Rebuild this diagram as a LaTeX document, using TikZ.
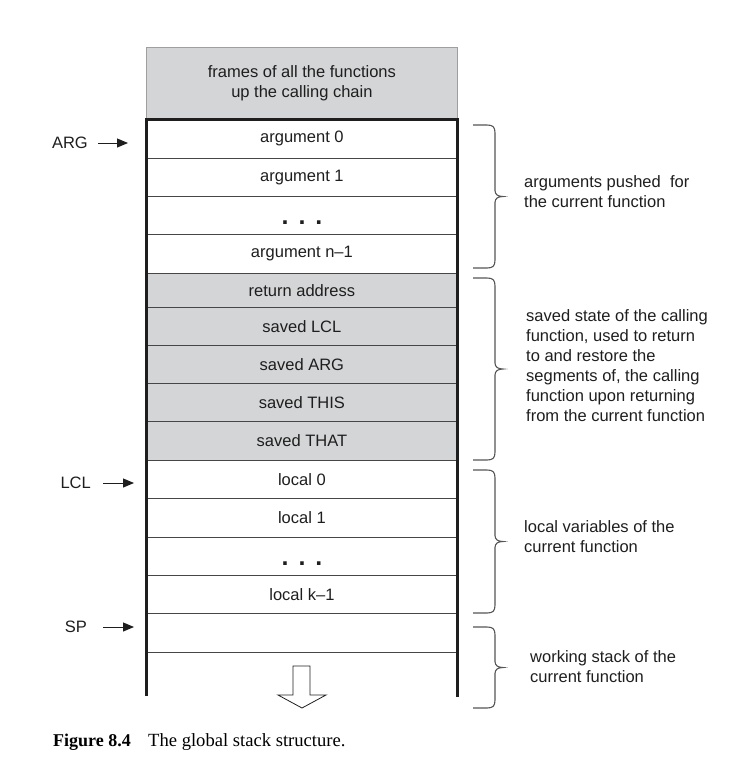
\documentclass[tikz,border=0pt]{standalone}
\usepackage{fontspec}
\setmainfont{Liberation Sans}
\newfontfamily\capfont{Liberation Serif}
\usetikzlibrary{arrows.meta}
\definecolor{stackgray}{RGB}{212,213,215}
\definecolor{ink}{RGB}{30,30,30}
\definecolor{rowline}{RGB}{70,70,70}
\definecolor{bracecol}{RGB}{85,85,85}
\newcommand{\stackbrace}[2]{%
  \pgfmathsetmacro{\brT}{#1}%
  \pgfmathsetmacro{\brB}{#2}%
  \pgfmathsetmacro{\brM}{(#1+#2)/2}%
  \draw[bracestyle] (473,\brT) -- (487,\brT)
    .. controls (493,\brT) and (495,{\brT+2}) .. (495,{\brT+8})
    -- (495,{\brM-6})
    .. controls (495,{\brM-2}) and (498,\brM) .. (503,\brM)
    .. controls (498,\brM) and (495,{\brM+2}) .. (495,{\brM+6})
    -- (495,{\brB-8})
    .. controls (495,{\brB-2}) and (493,\brB) .. (487,\brB)
    -- (473,\brB);%
}
\begin{document}
\begin{tikzpicture}[x=1pt,y=-1pt,
  txt/.style={font=\fontsize{16.5}{20}\selectfont, text=ink},
  row/.style={txt, rectangle, draw=rowline, line width=0.8pt, minimum width=311pt, inner sep=0pt, anchor=north west},
  grayrow/.style={row, fill=stackgray},
  ptrlabel/.style={txt, inner sep=0pt, anchor=east},
  ptr/.style={-{Triangle[length=11pt,width=9pt]}, line width=1pt, draw=ink},
  wall/.style={line width=3pt, draw=ink},
  bracestyle/.style={line width=1.1pt, draw=bracecol},
  bracetext/.style={txt, align=left, anchor=west, inner sep=0pt},
  dotsstyle/.style={font=\fontsize{25}{25}\selectfont\bfseries, text=ink, inner sep=0pt, anchor=base},
  capstyle/.style={anchor=base west, inner sep=0pt, text=black},
]
\useasboundingbox (0,0) rectangle (741,777);

% frames above
\node[grayrow, draw=gray!75, align=center, minimum height=72pt] (frames) at (146,47) {frames of all the functions\\up the calling chain};

% argument rows
\node[row, minimum height=39pt] (arg0) at (146,119) {argument 0};
\node[row, minimum height=38pt] (arg1) at (146,158) {argument 1};
\node[row, minimum height=38pt] (argdots) at (146,196) {};
\node[row, minimum height=39pt] (argn) at (146,234) {argument n–1};

% saved state rows
\node[grayrow, minimum height=34pt] (ret) at (146,273) {return address};
\node[grayrow, minimum height=38pt] (slcl) at (146,307) {saved LCL};
\node[grayrow, minimum height=38pt] (sarg) at (146,345) {saved ARG};
\node[grayrow, minimum height=38pt] (sthis) at (146,383) {saved THIS};
\node[grayrow, minimum height=39pt] (sthat) at (146,421) {saved THAT};

% local rows
\node[row, minimum height=38pt] (loc0) at (146,460) {local 0};
\node[row, minimum height=39pt] (loc1) at (146,498) {local 1};
\node[row, minimum height=38pt] (locdots) at (146,537) {};
\node[row, minimum height=38pt] (lock) at (146,575) {local k–1};
\node[row, minimum height=39pt] (spslot) at (146,613) {};

% ellipses
\node[dotsstyle] (dotsA) at (302,224) {.\hspace{10pt}.\hspace{10pt}.};
\node[dotsstyle] (dotsB) at (302,565) {.\hspace{10pt}.\hspace{10pt}.};

% thick walls
\draw[wall] (146,696) -- (146,119) -- (457,119) -- (457,697);

% growth arrow
\draw[line width=0.8pt, draw=ink] (293,666) -- (310,666) -- (310,695) -- (326,695) -- (302,708) -- (278,695) -- (293,695) -- cycle;

% pointers
\node[ptrlabel] (ARG) at (88,143) {ARG};
\node[ptrlabel] (LCL) at (91,483) {LCL};
\node[ptrlabel] (SP) at (87,627) {SP};
\draw[ptr, shorten <=10pt, shorten >=18pt] (ARG.east) -- (ARG.east -| arg0.west);
\draw[ptr, shorten <=12pt, shorten >=12pt] (LCL.east) -- (LCL.east -| loc0.west);
\draw[ptr, shorten <=16pt, shorten >=12pt] (SP.east) -- (SP.east -| spslot.west);

% braces
\stackbrace{125}{268}
\stackbrace{278}{460}
\stackbrace{470}{613}
\stackbrace{627}{708}

% notes
\node[bracetext] (argnote) at (524,191.5) {arguments pushed\ \ for\\the current function};
\node[bracetext] (savednote) at (526,365.5) {saved state of the calling\\function, used to return\\to and restore the\\segments of, the calling\\function upon returning\\from the current function};
\node[bracetext] (localnote) at (524,536.5) {local variables of the\\current function};
\node[bracetext] (worknote) at (530,666.5) {working stack of the\\current function};

% caption
\node[capstyle, font=\capfont\fontsize{18}{20}\selectfont\bfseries] (figlabel) at (53,746) {Figure 8.4};
\node[capstyle, font=\capfont\fontsize{18.6}{20}\selectfont] (figcap) at (148,746) {The global stack structure.};
\end{tikzpicture}
\end{document}
